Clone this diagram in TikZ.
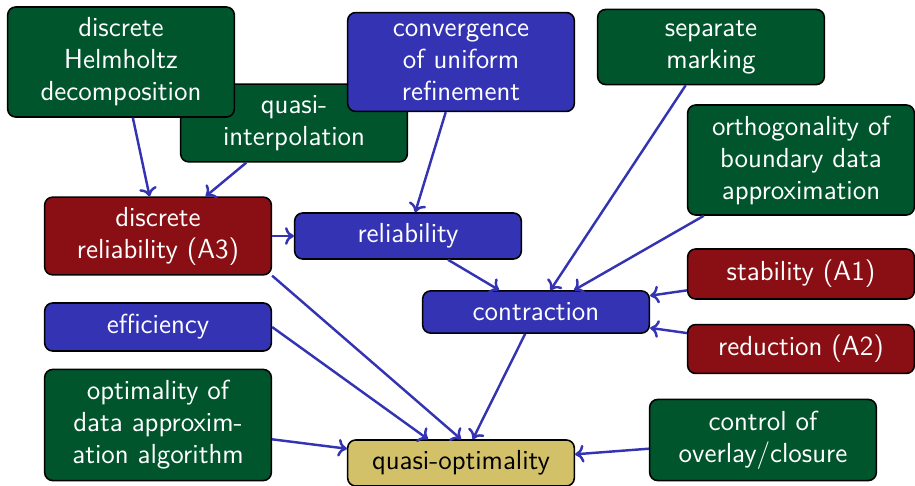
\documentclass[tikz,border=0pt]{standalone}
\usepackage{tikz}
\usepackage{xcolor}
\usetikzlibrary{arrows.meta}
\definecolor{GR}{HTML}{00552D}
\definecolor{RD}{HTML}{8A0F14}
\definecolor{BL}{HTML}{3333B3}
\definecolor{TN}{HTML}{D3C16A}

\begin{document}
\begin{tikzpicture}[x=0.45pt, y=-0.45pt,
    box/.style={draw=black, line width=0.7pt, rounded corners=3.6pt,
      minimum width=102pt, align=center, inner sep=2pt, text=white,
      font=\sffamily\fontsize{12.4}{14.4}\selectfont},
    gbox/.style={box, fill=GR},
    rbox/.style={box, fill=RD},
    bbox/.style={box, fill=BL},
    tbox/.style={box, fill=TN, text=black},
    link/.style={BL, line width=1.1pt, -{To[length=4pt,width=8pt]}}]
    \useasboundingbox (0,0) rectangle (915,486);

    % top row
    \node[gbox, minimum height=35pt] (qi) at (294,123) {quasi-\\interpolation};
    \node[gbox, minimum height=49.5pt] (hh) at (121,62) {discrete\\Helmholtz\\decomposition};
    \node[bbox, minimum height=44.5pt] (cu) at (461,62) {convergence\\of uniform\\refinement};
    \node[gbox, minimum height=33.8pt] (sm) at (711,47) {separate\\marking};
    \node[gbox, minimum height=49.5pt] (ob) at (801,160) {orthogonality of\\boundary data\\approximation};

    % middle
    \node[rbox, minimum height=35pt] (dr) at (158,236) {discrete\\reliability (A3)};
    \node[bbox, minimum height=20.7pt] (rel) at (408,236) {reliability};
    \node[bbox, minimum height=19pt] (con) at (536,312) {contraction};
    \node[rbox, minimum height=22.5pt] (stab) at (801,274) {stability (A1)};
    \node[rbox, minimum height=22pt] (red) at (801,349) {reduction (A2)};
    \node[bbox, minimum height=21.6pt] (eff) at (158,327) {efficiency};

    % bottom
    \node[gbox, minimum height=50pt] (opt) at (158,425) {optimality of\\data approxim-\\ation algorithm};
    \node[tbox, minimum height=20.7pt] (qo) at (461,463) {quasi-optimality};
    \node[gbox, minimum height=36.5pt] (ctl) at (763,440) {control of\\overlay/closure};

    \draw[link] (hh) -- (dr);
    \draw[link] (qi) -- (dr);
    \draw[link] (cu) -- (rel);
    \draw[link] (dr) -- (rel);
    \draw[link] (rel) -- (con);
    \draw[link] (sm) -- (con);
    \draw[link] (ob) -- (con);
    \draw[link] (stab) -- (con);
    \draw[link] (red) -- (con);
    \draw[link] (con) -- (qo);
    \draw[link] (dr.south east) -- (qo.north);
    \draw[link] (eff.east) -- (qo);
    \draw[link] (opt) -- (qo);
    \draw[link] (ctl) -- (qo);
\end{tikzpicture}
\end{document}
